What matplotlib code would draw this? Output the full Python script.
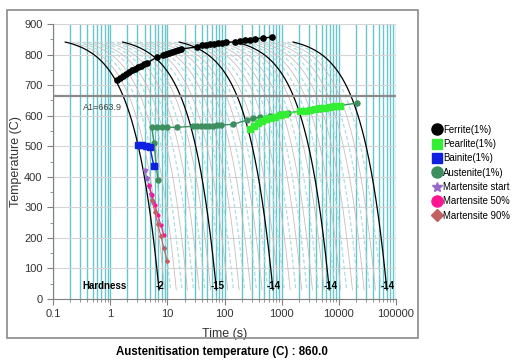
import numpy as np
import matplotlib
matplotlib.use("Agg")
import matplotlib.pyplot as plt
from matplotlib.lines import Line2D
from matplotlib.patches import Rectangle
from matplotlib.ticker import FixedLocator, LogLocator, NullFormatter, MultipleLocator

plt.rcParams["font.family"] = ["Liberation Sans", "DejaVu Sans"]

# ---- data ---------------------------------------------------------------
T_AUST = 860.0          # austenitisation temperature
A1 = 663.9

# highlighted cooling curves (C/s) and their hardness labels
BLACK_RATES = [116, 11.5, 1.18, 0.122, 0.012]
HARDNESS = ["-2", "-15", "-14", "-14", "-14"]

# thin cooling curves between the highlighted ones (C/s)
GREY_RATES = [
    92, 73, 58, 46, 37, 29, 23, 18.3, 14.5,
    9.1, 7.3, 5.8, 4.6, 3.7, 2.9, 2.3, 1.83, 1.45,
    0.94, 0.75, 0.59, 0.47, 0.37, 0.30, 0.24, 0.19, 0.15,
    0.097, 0.077, 0.061, 0.048, 0.038, 0.030, 0.024, 0.019, 0.015,
]

FERRITE_T = [1.315, 1.483, 1.674, 1.889, 2.132, 2.405, 2.714, 3.062, 3.455, 3.898, 4.399,
             6.58, 8.38, 9.45, 10.66, 12.03, 13.58, 15.32, 17.29, 32.9,
             40.3, 47.3, 55.6, 65.3, 76.7, 90.1, 105.8, 152, 186, 227, 278, 340, 469, 674]
FERRITE_C = [716, 723, 730, 736, 743, 749, 752, 759, 762, 769, 772,
             792, 798, 802, 805, 808, 811, 815, 818, 825,
             831, 831, 834, 834, 838, 838, 841, 841, 844, 848, 848, 851, 854, 857]

PEARLITE_T = [278, 327, 384, 451, 529, 622, 761, 930, 1138,
              2080, 2546, 3112, 3805, 4655, 5690, 6966, 8510, 10400]
PEARLITE_C = [556, 566, 575, 582, 589, 592, 597, 602, 605,
              615, 616, 618, 621, 625, 626, 628, 631, 633]

BAINITE_T = [3.06, 3.6, 4.2, 4.96, 5.83]
BAINITE_C = [503, 503, 500, 497, 434]

AUSTENITE_T = [6.85, 5.83, 5.38, 6.58, 8.0, 9.8, 14.7, 27.9, 32.9, 38.6, 45.4, 53.3, 62.6,
               73.5, 86.3, 141, 245, 313, 416, 622, 930, 1285, 2080, 3112, 4655, 6966,
               10400, 20650]
AUSTENITE_C = [389, 510, 562, 562, 562, 562, 562, 565, 565, 565, 567, 567, 567,
               569, 569, 572, 585, 592, 595, 600, 605, 608, 616, 620, 623, 628,
               633, 641]

MS_T = [4.06, 4.40, 4.77, 5.17, 5.60]
MS_C = [421, 395, 369, 343, 316]
M50_T = [4.77, 5.38, 6.07, 6.85, 7.73, 8.72]
M50_C = [372, 339, 307, 274, 241, 208]
M90_T = [5.38, 6.07, 6.85, 7.73, 8.72, 9.84]
M90_C = [323, 284, 244, 205, 166, 126]

X_TICKS = [0.1, 1, 10, 100, 1000, 10000, 100000]
X_LABELS = ["0.1", "1", "10", "100", "1000", "10000", "100000"]
Y_TICKS = [0, 100, 200, 300, 400, 500, 600, 700, 800, 900]

W, H = 518, 363
fig = plt.figure(figsize=(W / 100, H / 100), dpi=100)
ax = fig.add_axes([53 / W, 1 - 299 / H, (396 - 53) / W, (299 - 24) / H])
ax.set_xscale("log")
ax.set_xlim(0.1, 100000)
ax.set_ylim(0, 900)

# outer panel frame
fig.patches.append(Rectangle((7 / W, 1 - 338 / H), (418 - 7) / W, (338 - 10) / H,
                             transform=fig.transFigure, fill=False,
                             edgecolor="#8a8a8a", linewidth=1.2))

# teal log grid (major + minor), grey horizontal grid
ax.xaxis.set_major_locator(FixedLocator(X_TICKS))
ax.xaxis.set_minor_locator(LogLocator(base=10, subs=np.arange(2, 10), numticks=20))
ax.xaxis.set_minor_formatter(NullFormatter())
ax.set_xticklabels(X_LABELS)
ax.grid(True, which="both", axis="x", color="#68c6cb", linewidth=1.0)
ax.yaxis.set_major_locator(FixedLocator(Y_TICKS))
ax.yaxis.set_minor_locator(MultipleLocator(50))
ax.grid(True, which="major", axis="y", color="#d4d4d4", linewidth=0.8)
ax.set_axisbelow(True)

for s in ("top", "right"):
    ax.spines[s].set_visible(False)
for s in ("left", "bottom"):
    ax.spines[s].set_color("#808080")
ax.tick_params(which="both", colors="#808080", labelcolor="#333333", labelsize=8)
ax.tick_params(which="major", length=4)
ax.tick_params(which="minor", length=2.5)

# cooling curves: linear cooling from the austenitisation temperature
temps = np.linspace(841, 30, 200)
for i, r in enumerate(GREY_RATES):
    if i % 2 == 0:
        ax.plot((T_AUST - temps) / r, temps, color="#c9bdbd", linewidth=0.6, zorder=2)
    else:
        ax.plot((T_AUST - temps) / r, temps, color="#aedcdc", linewidth=0.9,
                linestyle=(0, (3, 2)), zorder=2)
for r, lab in zip(BLACK_RATES, HARDNESS):
    ax.plot((T_AUST - temps) / r, temps, color="black", linewidth=0.9, zorder=3)
    ax.text((T_AUST - 30) / r * 1.05, 44, lab, ha="center", va="center",
            fontsize=7, fontweight="bold", zorder=6)
ax.text(0.32, 44, "Hardness", ha="left", va="center", fontsize=7, fontweight="bold", zorder=6)

ax.axhline(A1, color="#8a8a8a", linewidth=1.6, zorder=3)
ax.text(0.33, 628, f"A1={A1}", ha="left", va="center", fontsize=6.5, color="#444444", zorder=6)

# phase boundaries
ax.plot(AUSTENITE_T, AUSTENITE_C, color="#3d8f5f", marker="o", markersize=3.6,
        linewidth=1, zorder=4)
ax.plot(PEARLITE_T, PEARLITE_C, color="#33ee33", marker="s", markersize=3.8,
        linewidth=1, zorder=5)
ax.plot(FERRITE_T, FERRITE_C, color="black", marker="o", markersize=3.8,
        linewidth=1, zorder=5)
ax.plot(BAINITE_T, BAINITE_C, color="#1020e0", marker="s", markersize=4,
        linewidth=1, zorder=5)
ax.plot(MS_T, MS_C, color="#9966cc", marker="*", markersize=3.5, linewidth=0.8, zorder=5)
ax.plot(M50_T, M50_C, color="#ff1493", marker="o", markersize=2, linewidth=0.8, zorder=5)
ax.plot(M90_T, M90_C, color="#c06060", marker="D", markersize=2, linewidth=0.8, zorder=5)

ax.set_xlabel("Time (s)", fontsize=9, color="#333333")
ax.xaxis.set_label_coords(0.5, -0.105)
ax.set_ylabel("Temperature (C)", fontsize=9, color="#333333")
ax.yaxis.set_label_coords(-0.09, 0.5)

handles = [
    Line2D([], [], linestyle="", marker="o", color="black", markersize=8),
    Line2D([], [], linestyle="", marker="s", color="#33ee33", markersize=7.5),
    Line2D([], [], linestyle="", marker="s", color="#1020e0", markersize=7.5),
    Line2D([], [], linestyle="", marker="o", color="#3d8f5f", markersize=8),
    Line2D([], [], linestyle="", marker="*", color="#9966cc", markersize=7),
    Line2D([], [], linestyle="", marker="o", color="#ff1493", markersize=8),
    Line2D([], [], linestyle="", marker="D", color="#c06060", markersize=6),
]
labels = ["Ferrite(1%)", "Pearlite(1%)", "Bainite(1%)", "Austenite(1%)",
          "Martensite start", "Martensite 50%", "Martensite 90%"]
fig.legend(handles, labels, loc="upper left", bbox_to_anchor=(429 / W, 1 - 121 / H),
           frameon=False, fontsize=6.9, handlelength=0.9, handletextpad=0.2,
           labelspacing=0.45, borderaxespad=0)

fig.text(222 / W, 1 - 352 / H, "Austenitisation temperature (C) : 860.0",
         ha="center", va="center", fontsize=8.3, fontweight="bold")

fig.savefig("out.png", dpi=100)
